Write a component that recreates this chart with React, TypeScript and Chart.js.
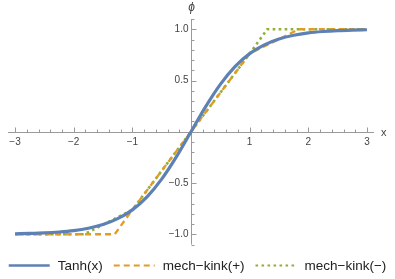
import React, { useEffect, useRef } from "react";
import { Chart, registerables } from "chart.js";

Chart.register(...registerables);

// ---- data ----
const tanhX = [-3, -2.75, -2.5, -2.25, -2, -1.75, -1.5, -1.25, -1, -0.75, -0.5, -0.25, 0, 0.25, 0.5, 0.75, 1, 1.25, 1.5, 1.75, 2, 2.25, 2.5, 2.75, 3];
const tanhY = [-0.995, -0.992, -0.987, -0.978, -0.964, -0.941, -0.905, -0.848, -0.762, -0.635, -0.462, -0.245, 0, 0.245, 0.462, 0.635, 0.762, 0.848, 0.905, 0.941, 0.964, 0.978, 0.987, 0.992, 0.995];
const kinkPlusX = [-3, -1.3, -1, 0, 1, 1.84, 3];
const kinkPlusY = [-1, -1, -0.762, 0, 0.762, 1, 1];
const kinkMinusX = [-3, -1.82, -1, 0, 1, 1.3, 3];
const kinkMinusY = [-1, -1, -0.762, 0, 0.762, 1, 1];
const seriesLabels = ["Tanh(x)", "mech\u2212kink(+)", "mech\u2212kink(\u2212)"];

const xMajorTicks = [-3, -2, -1, 1, 2, 3];
const xMajorLabels = ["\u22123", "\u22122", "\u22121", "1", "2", "3"];
const xMinorTicks = [-2.8, -2.6, -2.4, -2.2, -1.8, -1.6, -1.4, -1.2, -0.8, -0.6, -0.4, -0.2, 0.2, 0.4, 0.6, 0.8, 1.2, 1.4, 1.6, 1.8, 2.2, 2.4, 2.6, 2.8];
const yMajorTicks = [-1, -0.5, 0.5, 1];
const yMajorLabels = ["\u22121.0", "\u22120.5", "0.5", "1.0"];
const yMinorTicks = [-1.1, -0.9, -0.8, -0.7, -0.6, -0.4, -0.3, -0.2, -0.1, 0.1, 0.2, 0.3, 0.4, 0.6, 0.7, 0.8, 0.9, 1.1];

const xRange = [-3.12, 3.12];
const yRange = [-1.1, 1.1];

const toPoints = (xs: number[], ys: number[]) => xs.map((x, i) => ({ x, y: ys[i] }));

const AXIS_COLOR = "#9a9a9a";
const LABEL_COLOR = "#444444";
const FONT = "'Liberation Sans', Arial, sans-serif";

const axesPlugin = {
  id: "mmaAxes",
  beforeDatasetsDraw(chart: any) {
    const ctx = chart.ctx;
    const xs = chart.scales.x;
    const ys = chart.scales.y;
    const area = chart.chartArea;
    const x0 = Math.round(xs.getPixelForValue(0)) + 0.5;
    const y0 = Math.round(ys.getPixelForValue(0)) + 0.5;
    ctx.save();
    ctx.strokeStyle = AXIS_COLOR;
    ctx.lineWidth = 1;
    ctx.beginPath();
    ctx.moveTo(area.left, y0);
    ctx.lineTo(area.right, y0);
    ctx.moveTo(x0, area.top);
    ctx.lineTo(x0, area.bottom);
    xMajorTicks.forEach((v) => {
      const px = Math.round(xs.getPixelForValue(v)) + 0.5;
      ctx.moveTo(px, y0);
      ctx.lineTo(px, y0 - 5);
    });
    xMinorTicks.forEach((v) => {
      const px = Math.round(xs.getPixelForValue(v)) + 0.5;
      ctx.moveTo(px, y0);
      ctx.lineTo(px, y0 - 3);
    });
    yMajorTicks.forEach((v) => {
      const py = Math.round(ys.getPixelForValue(v)) + 0.5;
      ctx.moveTo(x0, py);
      ctx.lineTo(x0 + 5, py);
    });
    yMinorTicks.forEach((v) => {
      const py = Math.round(ys.getPixelForValue(v)) + 0.5;
      ctx.moveTo(x0, py);
      ctx.lineTo(x0 + 3, py);
    });
    ctx.stroke();

    ctx.fillStyle = LABEL_COLOR;
    ctx.font = `10px ${FONT}`;
    ctx.textAlign = "center";
    ctx.textBaseline = "middle";
    xMajorTicks.forEach((v, i) => {
      ctx.fillText(xMajorLabels[i], xs.getPixelForValue(v), y0 + 10);
    });
    ctx.textAlign = "right";
    yMajorTicks.forEach((v, i) => {
      ctx.fillText(yMajorLabels[i], x0 - 3, ys.getPixelForValue(v));
    });
    ctx.font = `11px ${FONT}`;
    ctx.textAlign = "left";
    ctx.fillText("x", area.right + 7, y0);
    ctx.textAlign = "center";
    ctx.font = `italic 12px ${FONT}`;
    ctx.fillText("\u03d5", x0, area.top - 11);
    ctx.restore();
  },
  afterDraw(chart: any) {
    const ctx = chart.ctx;
    const ds = chart.data.datasets;
    const lineLen = 41;
    const gapText = 8;
    const gapItem = 11;
    ctx.save();
    ctx.font = `13.5px ${FONT}`;
    const widths = ds.map((d: any) => ctx.measureText(d.label).width);
    const total = widths.reduce((a: number, b: number) => a + b, 0) + ds.length * (lineLen + gapText) + (ds.length - 1) * gapItem;
    let x = (chart.width - total) / 2;
    const y = 265.5;
    ds.forEach((d: any, i: number) => {
      ctx.strokeStyle = d.borderColor;
      ctx.lineWidth = d.legendWidth;
      ctx.setLineDash(d.borderDash || []);
      ctx.beginPath();
      ctx.moveTo(x, y);
      ctx.lineTo(x + lineLen, y);
      ctx.stroke();
      x += lineLen + gapText;
      ctx.fillStyle = "#222222";
      ctx.textAlign = "left";
      ctx.textBaseline = "middle";
      ctx.fillText(d.label, x, y + 0.5);
      x += widths[i] + gapItem;
    });
    ctx.restore();
  },
};

export default function App() {
  const ref = useRef<HTMLCanvasElement | null>(null);
  useEffect(() => {
    document.body.style.margin = "0";
    const canvas = ref.current!;
    const chart = new Chart(canvas, {
      type: "line",
      data: {
        datasets: [
          {
            label: seriesLabels[0],
            data: toPoints(tanhX, tanhY),
            borderColor: "#5E81B5",
            borderWidth: 3.2,
            cubicInterpolationMode: "monotone",
            pointRadius: 0,
            legendWidth: 2.4,
          } as any,
          {
            label: seriesLabels[1],
            data: toPoints(kinkPlusX, kinkPlusY),
            borderColor: "#E19C24",
            borderWidth: 2.3,
            borderDash: [6, 4],
            tension: 0,
            pointRadius: 0,
            legendWidth: 1.8,
          } as any,
          {
            label: seriesLabels[2],
            data: toPoints(kinkMinusX, kinkMinusY),
            borderColor: "#8FB032",
            borderWidth: 2.6,
            borderDash: [2.6, 3.4],
            tension: 0,
            pointRadius: 0,
            legendWidth: 2,
          } as any,
        ],
      },
      options: {
        responsive: false,
        animation: false,
        clip: false as any,
        layout: { padding: { left: 8, right: 21, top: 19, bottom: 34.5 } },
        scales: {
          x: { type: "linear", min: xRange[0], max: xRange[1], display: false },
          y: { type: "linear", min: yRange[0], max: yRange[1], display: false },
        },
        plugins: { legend: { display: false }, tooltip: { enabled: false } },
        events: [],
      },
      plugins: [axesPlugin],
    });
    return () => chart.destroy();
  }, []);
  return (
    <div style={{ position: "fixed", left: 0, top: 0, width: 395, height: 279, background: "#fff" }}>
      <canvas ref={ref} width={395} height={279} style={{ width: 395, height: 279 }} />
    </div>
  );
}
